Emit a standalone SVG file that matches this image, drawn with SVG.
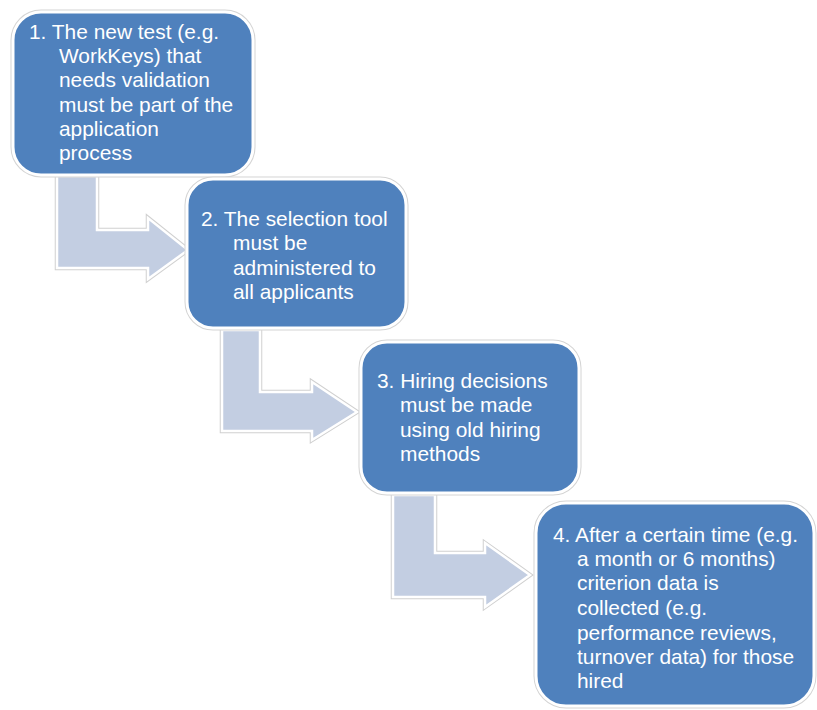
<svg xmlns="http://www.w3.org/2000/svg" width="817" height="710" viewBox="0 0 817 710">
<style>
.halo{fill:none;stroke:#d4d4d4;stroke-width:5;stroke-linejoin:round}
.box{fill:#4F81BD;stroke:#ffffff;stroke-width:3}
.arr{fill:#C3CEE2;stroke:#ffffff;stroke-width:2.5;stroke-linejoin:miter}
.ahalo{fill:none;stroke:#d0d0d0;stroke-width:4.5;stroke-linejoin:miter}
text{font-family:"Liberation Sans",Arial,sans-serif;font-size:20.9px;fill:#ffffff}
</style>
<rect width="817" height="710" fill="#ffffff"/>
<g id="connectors">
  <g id="arrow1">
    <path class="ahalo" d="M57,176 L97,176 L97,230 L148,230 L148,218 L188,250 L148,279 L148,268 L57,268 Z"/>
    <path class="arr" d="M57,176 L97,176 L97,230 L148,230 L148,218 L188,250 L148,279 L148,268 L57,268 Z"/>
  </g>
  <g id="arrow2">
    <path class="ahalo" d="M222,330 L260,330 L260,392 L312,392 L312,382 L357,412 L312,440 L312,431 L222,431 Z"/>
    <path class="arr" d="M222,330 L260,330 L260,392 L312,392 L312,382 L357,412 L312,440 L312,431 L222,431 Z"/>
  </g>
  <g id="arrow3">
    <path class="ahalo" d="M393,495 L435,495 L435,553 L485,553 L485,543 L530,575 L485,607 L485,597 L393,597 Z"/>
    <path class="arr" d="M393,495 L435,495 L435,553 L485,553 L485,543 L530,575 L485,607 L485,597 L393,597 Z"/>
  </g>
</g>
<g id="node1">
  <rect class="halo" x="13" y="12" width="240" height="163" rx="28"/>
  <rect class="box" x="13" y="12" width="240" height="163" rx="28"/>
  <text x="29" y="39">1. The new test (e.g.</text>
  <text x="59" y="63">WorkKeys) that</text>
  <text x="59" y="87">needs validation</text>
  <text x="59" y="112">must be part of the</text>
  <text x="59" y="136">application</text>
  <text x="59" y="160">process</text>
</g>
<g id="node2">
  <rect class="halo" x="187" y="179" width="219" height="149" rx="26"/>
  <rect class="box" x="187" y="179" width="219" height="149" rx="26"/>
  <text x="201" y="226">2. The selection tool</text>
  <text x="233" y="250">must be</text>
  <text x="233" y="275">administered to</text>
  <text x="233" y="299">all applicants</text>
</g>
<g id="node3">
  <rect class="halo" x="361" y="342" width="218" height="151" rx="26"/>
  <rect class="box" x="361" y="342" width="218" height="151" rx="26"/>
  <text x="377" y="388">3. Hiring decisions</text>
  <text x="400" y="412">must be made</text>
  <text x="400" y="437">using old hiring</text>
  <text x="400" y="461">methods</text>
</g>
<g id="node4">
  <rect class="halo" x="536" y="503" width="278" height="203" rx="30"/>
  <rect class="box" x="536" y="503" width="278" height="203" rx="30"/>
  <text x="553" y="542">4. After a certain time (e.g.</text>
  <text x="577" y="566">a month or 6 months)</text>
  <text x="577" y="590">criterion data is</text>
  <text x="577" y="615">collected (e.g.</text>
  <text x="577" y="640">performance reviews,</text>
  <text x="577" y="664">turnover data) for those</text>
  <text x="577" y="688">hired</text>
</g>
</svg>
